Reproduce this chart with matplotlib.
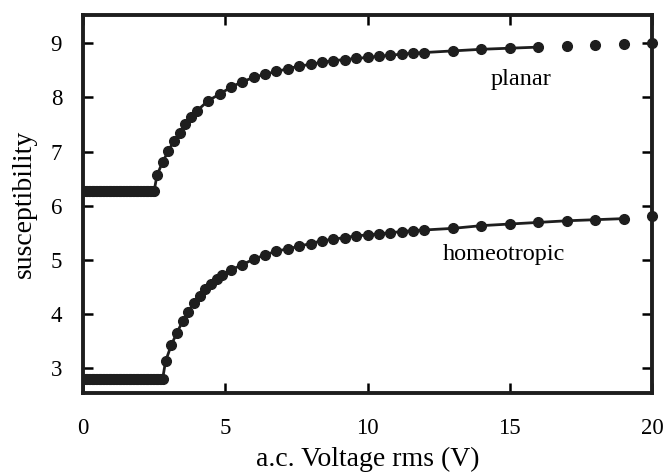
import numpy as np
import matplotlib
matplotlib.use("Agg")
import matplotlib.pyplot as plt

plt.rcParams['font.family'] = ['Liberation Serif', 'DejaVu Serif']

# Planar alignment data
planar_flat_v = [round(0.05 * i, 2) for i in range(0, 51)]
planar_flat_chi = [6.27] * len(planar_flat_v)
planar_rise_v = [2.6, 2.8, 3.0, 3.2, 3.4, 3.6, 3.8, 4.0, 4.4, 4.8, 5.2, 5.6, 6.0, 6.4,
                 6.8, 7.2, 7.6, 8.0, 8.4, 8.8, 9.2, 9.6, 10.0, 10.4, 10.8, 11.2, 11.6,
                 12.0, 13.0, 14.0, 15.0, 16.0]
planar_rise_chi = [6.56, 6.81, 7.01, 7.20, 7.35, 7.51, 7.63, 7.75, 7.94, 8.06, 8.19, 8.29,
                   8.37, 8.43, 8.48, 8.53, 8.58, 8.61, 8.65, 8.68, 8.70, 8.72, 8.74, 8.76,
                   8.78, 8.80, 8.82, 8.83, 8.86, 8.89, 8.91, 8.93]
planar_tail_v = [17.0, 18.0, 19.0, 20.0]
planar_tail_chi = [8.95, 8.97, 8.99, 9.01]

# Homeotropic alignment data
homeo_flat_v = [round(0.05 * i, 2) for i in range(0, 57)]
homeo_flat_chi = [2.80] * len(homeo_flat_v)
homeo_rise_v = [2.9, 3.1, 3.3, 3.5, 3.7, 3.9, 4.1, 4.3, 4.5, 4.7, 4.9, 5.2, 5.6, 6.0,
                6.4, 6.8, 7.2, 7.6, 8.0, 8.4, 8.8, 9.2, 9.6, 10.0, 10.4, 10.8, 11.2,
                11.6, 12.0, 13.0, 14.0, 15.0, 16.0, 17.0, 18.0, 19.0]
homeo_rise_chi = [3.12, 3.42, 3.65, 3.86, 4.04, 4.20, 4.33, 4.45, 4.55, 4.64, 4.72, 4.81,
                  4.91, 5.01, 5.09, 5.16, 5.20, 5.25, 5.30, 5.35, 5.38, 5.41, 5.44, 5.46,
                  5.48, 5.50, 5.52, 5.54, 5.55, 5.58, 5.63, 5.66, 5.69, 5.72, 5.74, 5.76,
                  5.78]
homeo_tail_v = [20.0]
homeo_tail_chi = [5.80]

x_ticks = [0, 5, 10, 15, 20]
y_ticks = [3, 4, 5, 6, 7, 8, 9]

col = '#1e1e1e'
fig = plt.figure(figsize=(6.64, 4.75), dpi=100)
ax = fig.add_axes([0.125, 0.173, 0.857, 0.795])

ms = 7.0
lw = 2.0
pv = planar_flat_v + planar_rise_v
pc = planar_flat_chi + planar_rise_chi
ax.plot(pv, pc, '-', color=col, lw=lw, marker='o', ms=ms)
ax.plot(planar_tail_v, planar_tail_chi, 'o', color=col, ms=ms, clip_on=False)

hv = homeo_flat_v + homeo_rise_v
hc = homeo_flat_chi + homeo_rise_chi[:len(homeo_rise_v)]
ax.plot(hv, hc, '-', color=col, lw=lw, marker='o', ms=ms)
ax.plot(homeo_tail_v, homeo_tail_chi, 'o', color=col, ms=ms, clip_on=False)

ax.set_xlim(0, 20)
ax.set_ylim(2.54, 9.52)
ax.set_xticks(x_ticks)
ax.set_yticks(y_ticks)
ax.tick_params(direction='in', length=7, width=1.8, top=True, right=True,
               labelsize=16.5, colors='black')
ax.tick_params(axis='y', pad=15)
ax.tick_params(axis='x', pad=18)
for s in ax.spines.values():
    s.set_linewidth(2.8)
    s.set_color(col)

ax.set_xlabel('a.c. Voltage rms (V)', fontsize=20, labelpad=6)
ax.set_ylabel('susceptibility', fontsize=20, labelpad=10)

ax.text(15.4, 8.33, 'planar', fontsize=17.5, ha='center', va='center')
ax.text(14.8, 5.1, 'homeotropic', fontsize=17.5, ha='center', va='center')

fig.savefig('out.png', dpi=100)
